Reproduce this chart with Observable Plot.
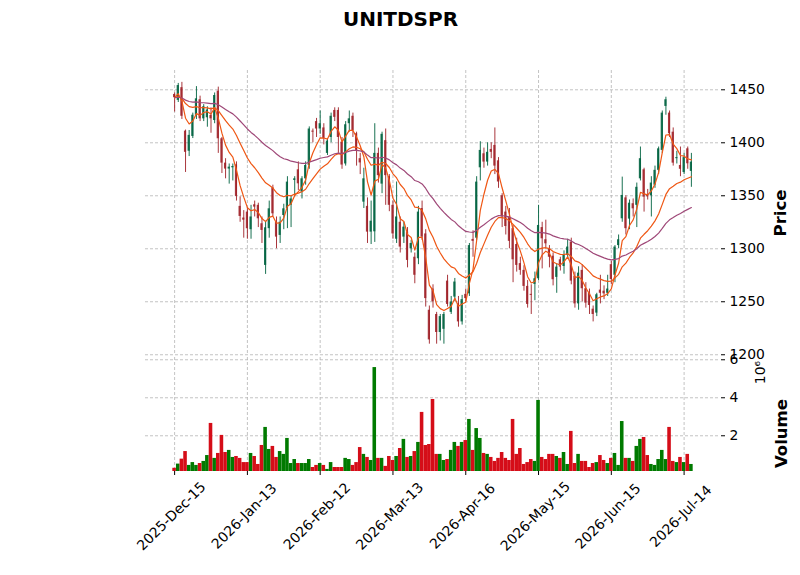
<!DOCTYPE html>
<html>
<head>
<meta charset="utf-8">
<script src="https://cdn.jsdelivr.net/npm/d3@7"></script>
<script src="https://cdn.jsdelivr.net/npm/@observablehq/plot@0.6"></script>
<style>
  html, body { margin: 0; padding: 0; background: #ffffff; }
  #wrap { position: relative; width: 800px; height: 575px; font-family: "DejaVu Sans", sans-serif; }
  #wrap svg { position: absolute; left: 0; }
</style>
</head>
<body>
<div id="wrap"></div>
<script>
const title = "UNITDSPR";
const tickIndex = [0, 20, 40, 60, 80, 100, 120, 140];
const tickLabels = ["2025-Dec-15", "2026-Jan-13", "2026-Feb-12", "2026-Mar-13", "2026-Apr-16", "2026-May-15", "2026-Jun-15", "2026-Jul-14"];
const priceTicks = [1200, 1250, 1300, 1350, 1400, 1450];
const volumeTicks = [2, 4, 6];
const emaSpans = [5, 20, 50];
const emaColors = ["#ef5714", "#ef5714", "#9f4878"];

const open = [1445.6,1440,1452,1411,1392,1406,1426,1440.6,1422.6,1423.6,1425.8,1421,1448.7,1403.8,1380.8,1375.2,1376.4,1379.2,1340,1329,
1334.6,1318,1341.5,1341,1323.6,1284.3,1319,1357.5,1325,1312.6,1331.4,1337.7,1341,1364.5,1374.5,1353.5,1366,1378.6,1411,1420,
1413,1414,1390,1405,1430.5,1430.5,1400.6,1380,1418,1425,1408.5,1385,1344,1340,1315.7,1316,1390,1361,1402,1368,
1341,1309,1325,1311,1315.7,1300,1292,1290.6,1338,1314,1242,1262,1238,1221,1224,1269.5,1240,1254.4,1248,1231,
1257,1257.5,1308.8,1310,1376.4,1389.6,1381.8,1393.7,1397.5,1383,1350,1334.6,1330,1319,1304,1286,1279.6,1264.5,1257,1266.4,
1271.7,1320,1308.5,1300,1293,1273,1289.6,1283.3,1293.7,1306.3,1274,1248,1279.6,1262.3,1258,1243,1239.3,1261,1260,1258,
1285,1275,1303,1328.3,1348,1328,1342.5,1341,1366,1374.5,1351,1350,1360,1374,1392.8,1434.3,1428,1410,1385,1378.6,
1372,1394.3,1373];
const high = [1447,1456,1457,1412,1411.6,1428,1453,1444,1436,1434,1433,1447,1452.5,1405,1385,1380,1380,1382,1349,1336,
1339,1341,1345,1343,1330,1326,1345,1360,1330,1330,1342,1368,1350,1368,1382,1368,1382,1415,1413,1423,
1430,1418,1404,1428,1433,1433,1405,1420,1430,1428,1410,1390,1376,1348,1345,1418,1395,1410,1413,1370,
1345,1363,1330,1325,1320,1308,1296,1340,1345,1318,1246,1266,1240,1238,1240,1275,1255,1272,1255,1256,
1262,1305,1317,1368,1401,1395,1400,1400,1414,1386,1352,1340,1338,1322,1310,1292,1284,1270,1266,1278,
1341,1325,1327,1303,1296,1286,1292,1298,1309,1310,1278,1283,1285,1268,1262,1246,1258,1275,1265,1275,
1288,1303,1313,1367.6,1350,1346,1347,1362,1396,1376,1356,1368,1378,1396,1430,1443,1430,1414,1392,1396,
1390,1396,1390];
const low = [1429,1438,1422,1372,1387,1404,1422,1420,1420,1414.7,1409,1418,1390,1371,1366,1361,1364,1345,1325,1310,
1309,1309,1330,1320,1305,1275.8,1310,1330,1300,1305,1318,1319,1320,1349,1355,1347,1360,1375,1400,1405,
1408,1398,1388,1400,1420,1390,1375,1378,1410,1405,1378,1370,1338,1305,1304,1306,1362,1352,1341,1335,
1309,1305,1296,1305,1282,1296,1267,1285,1308,1245,1210,1244,1210,1213,1210,1245,1238,1250,1226,1228,
1250,1255,1292,1308,1364,1376,1378,1385,1370,1357,1320,1313,1300,1268,1278,1275,1260,1244,1238,1251,
1270,1281,1300,1282,1265,1258,1279,1276,1290,1266,1244,1242,1250,1244,1238,1231,1236,1248,1252,1255,
1266,1268,1300,1325,1313,1318,1330,1320,1364,1334.6,1346,1330,1357,1370,1390,1426,1405,1378,1380,1368,
1370,1375,1358];
const close = [1442.5,1454,1425,1391,1407,1426,1441.5,1422.6,1434,1431,1422.6,1444.6,1403.8,1380.8,1375.2,1377,1377.6,1349.4,1330.5,1327,
1318.9,1330,1339.3,1328.3,1317.3,1319.8,1337.7,1333,1311,1325,1337.7,1362.9,1347,1366,1361.3,1366,1378.6,1413,1410,1413,
1418,1404,1401.6,1425,1424,1405,1379,1417,1422.6,1411.6,1392.8,1381,1366,1315.7,1326,1390,1369,1408,1369,1341,
1314,1330,1301.6,1320.4,1289,1305,1275,1334.6,1311,1253,1214,1250,1221,1236,1238,1247.5,1249.7,1268.6,1231,1252,
1253,1303,1307,1362.9,1392.8,1381.8,1391,1391,1378,1363,1330,1321,1307,1289.6,1284.3,1279.6,1264.5,1247.5,1256,1271.7,
1322,1309.4,1304.7,1292,1270.8,1282.7,1282.7,1293.7,1301.6,1269.5,1248,1277,1262.3,1248.7,1246.5,1238,1256.6,1258,1257.5,1262,
1271,1301.6,1308.5,1350.3,1319,1343,1337.7,1358,1385,1348.7,1349,1362,1374,1394.3,1428,1440.6,1408.5,1380.8,1386,1375,
1386,1380.2,1381.8];
// volume in millions
const volume = [0.29,0.51,0.77,1.17,0.44,0.59,0.44,0.54,0.65,0.96,2.65,0.81,1.07,2.02,1.12,1.23,0.86,0.91,0.81,0.59,
0.59,1.07,0.91,0.49,1.49,2.44,1.28,1.44,0.86,1.17,1.02,1.86,0.54,0.75,0.54,0.54,0.54,0.75,0.33,0.44,
0.54,0.44,0.23,0.59,0.33,0.33,0.33,0.81,0.75,0.44,0.59,1.38,1.02,0.86,0.70,5.59,0.81,0.81,0.39,0.91,
0.70,0.91,1.33,1.81,0.86,0.91,1.17,1.65,3.23,1.49,1.54,3.91,1.02,1.02,0.70,0.75,1.23,1.65,1.44,1.65,
1.75,2.86,1.23,2.38,1.86,1.07,1.02,0.86,0.65,0.81,1.12,0.81,0.70,2.86,1.02,1.33,0.49,0.59,0.75,0.65,
3.86,0.86,0.75,1.02,1.02,0.91,0.81,1.12,0.49,2.23,0.54,1.02,0.65,0.65,0.33,0.54,0.59,0.96,0.70,0.54,
0.81,1.07,0.44,2.75,0.81,0.81,0.65,1.44,1.81,1.91,0.96,0.49,0.44,0.75,1.23,0.75,2.44,0.65,0.59,0.86,
0.59,1.02,0.49];

// ---- build tables ----
const candles = close.map((c, i) => ({i, open: open[i], high: high[i], low: low[i], close: c, vol: volume[i], up: c >= open[i]}));
const upC = candles.filter(d => d.up), downC = candles.filter(d => !d.up);

function ema(vals, span) {
  const a = 2 / (span + 1);
  let e = vals[0];
  return vals.map((v, k) => (e = k === 0 ? v : a * v + (1 - a) * e));
}
const emaLines = emaSpans.map(s => ema(close, s));

const UP = "#006340", DOWN = "#a02128", VUP = "#007a00", VDOWN = "#d50d18";
const GRID = {stroke: "#b4b4b4", strokeOpacity: 1, strokeWidth: 0.8, strokeDasharray: "3,2"};
const FONT = {fontFamily: "DejaVu Sans, sans-serif", fontSize: "13.9px", background: "transparent", overflow: "visible", color: "#000"};
const xDomain = [-8, 150];
const bw = 0.3;
const intFmt = d => String(d);

const pricePlot = Plot.plot({
  width: 800, height: 360,
  marginTop: 70, marginBottom: 5, marginLeft: 145, marginRight: 80,
  x: {domain: xDomain, axis: null},
  y: {domain: [1199.3, 1468.2], axis: null},
  style: FONT,
  marks: [
    Plot.gridY(priceTicks, GRID),
    Plot.gridX(tickIndex, GRID),
    Plot.axisY(priceTicks, {anchor: "right", tickSize: 4, tickPadding: 5, label: null, fontSize: 13.9, tickFormat: intFmt}),
    Plot.ruleX(upC, {x: "i", y1: "low", y2: "high", stroke: UP, strokeWidth: 1, strokeOpacity: 0.9}),
    Plot.ruleX(downC, {x: "i", y1: "low", y2: "high", stroke: DOWN, strokeWidth: 1, strokeOpacity: 0.9}),
    Plot.rect(upC, {x1: d => d.i - bw, x2: d => d.i + bw, y1: "open", y2: "close", fill: UP, fillOpacity: 0.9}),
    Plot.rect(downC, {x1: d => d.i - bw, x2: d => d.i + bw, y1: "open", y2: "close", fill: DOWN, fillOpacity: 0.9}),
    ...emaLines.map((e, k) => Plot.line(e, {x: (d, i) => i, y: d => d, stroke: emaColors[k], strokeWidth: 1.2})),
    Plot.text([title], {frameAnchor: "top", dx: -32.5, dy: -59, fontSize: 20, fontWeight: "bold", fill: "#000", textAnchor: "middle"}),
    Plot.text(["Price"], {frameAnchor: "right", dx: 60, rotate: -90, fontSize: 16.5, fontWeight: "bold", fill: "#000", textAnchor: "middle"})
  ]
});
pricePlot.style.top = "0px";

const volPlot = Plot.plot({
  width: 800, height: 220,
  marginTop: 2, marginBottom: 104, marginLeft: 145, marginRight: 80,
  x: {domain: xDomain, axis: null},
  y: {domain: [0.12, 6.12], axis: null},
  style: FONT,
  marks: [
    Plot.gridY(volumeTicks, GRID),
    Plot.gridX(tickIndex, GRID),
    Plot.rect(upC, {x1: d => d.i - 0.49, x2: d => d.i + 0.49, y1: 0, y2: "vol", fill: VUP, clip: true}),
    Plot.rect(downC, {x1: d => d.i - 0.49, x2: d => d.i + 0.49, y1: 0, y2: "vol", fill: VDOWN, clip: true}),
    Plot.axisY(volumeTicks, {anchor: "right", tickSize: 4, tickPadding: 5, label: null, fontSize: 13.9, tickFormat: intFmt}),
    Plot.axisX(tickIndex, {anchor: "bottom", tickSize: 4, tickFormat: () => "", label: null}),
    Plot.text(tickIndex, {x: d => d, text: (d, k) => tickLabels[k], frameAnchor: "bottom", dy: 48, rotate: -45, textAnchor: "middle", fontSize: 13.9, fill: "#000"}),
    Plot.text(["Volume"], {frameAnchor: "right", dx: 61, dy: 19, rotate: -90, fontSize: 16.5, fontWeight: "bold", fill: "#000", textAnchor: "middle"}),
    Plot.text(["10\u2076"], {frameAnchor: "right", dx: 40, dy: -42, rotate: -90, fontSize: 13.9, fill: "#000", textAnchor: "middle"})
  ]
});
volPlot.style.top = "355px";

const wrap = document.getElementById("wrap");
wrap.appendChild(pricePlot);
wrap.appendChild(volPlot);
</script>
</body>
</html>
